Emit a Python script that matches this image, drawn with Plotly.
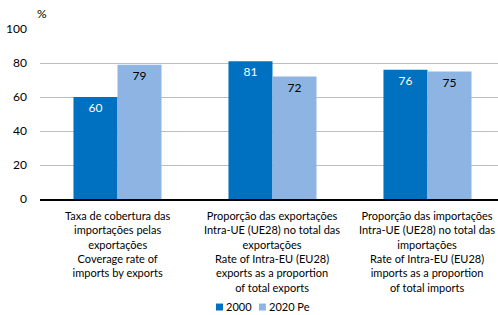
import plotly.graph_objects as go

categories = [
    "Taxa de cobertura das<br>importações pelas<br>exportações<br>Coverage rate of<br>imports by exports",
    "Proporção das exportações<br>Intra-UE (UE28) no total das<br>exportações<br>Rate of Intra-EU (EU28)<br>exports as a proportion<br>of total exports",
    "Proporção das importações<br>Intra-UE (UE28) no total das<br>importações<br>Rate of Intra-EU (EU28)<br>imports as a proportion<br>of total imports",
]
series_names = ["2000", "2020 Pe"]
series_2000 = [60, 81, 76]
series_2020 = [79, 72, 75]
y_ticks = [0, 20, 40, 60, 80, 100]
colors = ["#0070C0", "#8EB4E3"]

FONT = "Lato"
x = [0, 1, 2]

fig = go.Figure()
fig.add_trace(go.Bar(
    x=x, y=series_2000, name=series_names[0], marker=dict(color=colors[0], line=dict(width=0)),
    text=[str(v) for v in series_2000], textposition="inside", insidetextanchor="end",
    textfont=dict(color="white", size=12, family=FONT), textangle=0, showlegend=False,
))
fig.add_trace(go.Bar(
    x=x, y=series_2020, name=series_names[1], marker=dict(color=colors[1], line=dict(width=0)),
    text=[str(v) for v in series_2020], textposition="inside", insidetextanchor="end",
    textfont=dict(color="black", size=12, family=FONT), textangle=0, showlegend=False,
))

annotations = [dict(text="%", xref="paper", yref="paper", x=-0.01, y=1.09,
                    xanchor="left", yanchor="middle", showarrow=False,
                    font=dict(size=12, family=FONT))]
for i, c in enumerate(categories):
    annotations.append(dict(text=c, x=x[i], xref="x", yref="paper", y=-0.045,
                            xanchor="center", yanchor="top", showarrow=False, align="center",
                            font=dict(size=11, family=FONT)))
# custom legend: small squares + labels
shapes = []
sq_x = [0.3843, 0.478]
txt_x = [0.402, 0.496]
for i, name in enumerate(series_names):
    shapes.append(dict(type="rect", xref="paper", yref="paper",
                       x0=sq_x[i], x1=sq_x[i] + 0.0153, y0=-0.656, y1=-0.615,
                       fillcolor=colors[i], line=dict(width=0)))
    annotations.append(dict(text=name, xref="paper", yref="paper", x=txt_x[i], y=-0.635,
                            xanchor="left", yanchor="middle", showarrow=False,
                            font=dict(size=11, family=FONT)))

fig.update_layout(
    width=498, height=315,
    margin=dict(l=40, r=0, t=29, b=116),
    paper_bgcolor="white", plot_bgcolor="white",
    barmode="group", bargap=0.432, bargroupgap=0,
    font=dict(family=FONT, size=12, color="black"),
    uniformtext=dict(minsize=8, mode="show"),
    showlegend=False,
    xaxis=dict(tickvals=x, showticklabels=False, range=[-0.5, 2.455],
               showline=True, linecolor="black", linewidth=1.5, ticks="",
               showgrid=False, automargin=False),
    yaxis=dict(range=[0, 100], tickvals=y_ticks, showgrid=True, gridcolor="#BFBFBF",
               gridwidth=1, zeroline=False, showline=False, ticks="", ticklen=0,
               ticklabelstandoff=12,
               tickfont=dict(size=12, family=FONT), automargin=False),
    annotations=annotations,
    shapes=shapes,
)
fig.write_html("out.html", config={"displayModeBar": False},
               post_script="document.body.style.margin='0';document.body.style.overflow='hidden';")
